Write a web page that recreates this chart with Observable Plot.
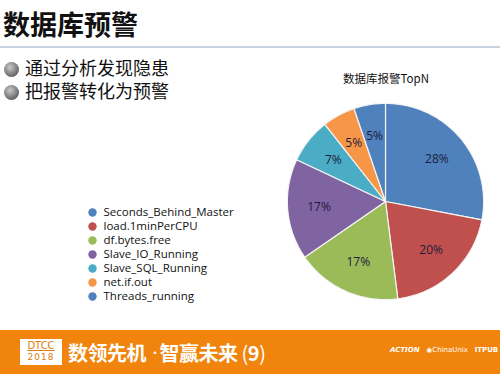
<!DOCTYPE html>
<html><head><meta charset="utf-8">
<script src="https://cdn.jsdelivr.net/npm/d3@7"></script>
<script src="https://cdn.jsdelivr.net/npm/@observablehq/plot@0.6"></script>
<style>
html,body{margin:0;padding:0;background:#fff;}
#slide{position:relative;width:500px;height:374px;overflow:hidden;background:#fff;font-family:"Noto Sans CJK SC","Noto Sans",sans-serif;}
.abs{position:absolute;}
#title{left:3px;top:5px;font-size:27px;font-weight:bold;color:#111;line-height:38px;letter-spacing:0px;}
#rule{left:0;top:46px;width:500px;height:2px;background:#c5d3e0;}
.bullet{left:4px;width:15px;height:15px;border-radius:50%;background:radial-gradient(circle at 40% 35%,#c9c9c9 0%,#8a8a8a 45%,#3c3c3c 100%);}
.btext{left:25px;font-size:18px;color:#111;line-height:21px;font-family:"Liberation Sans","Noto Sans CJK SC",sans-serif;}
#ptitle{left:300px;width:172px;text-align:center;top:70px;font-size:11.5px;color:#111;}
#pie{left:280px;top:96px;}
#legend{left:84px;top:202px;}
#footer{left:0;top:330px;width:500px;height:44px;background:#f0840c;}
#dtcc{left:20px;top:339px;width:42px;height:26px;background:#fff;text-align:center;font-family:"DejaVu Sans",sans-serif;color:#e07a10;}
#slogan{left:68px;top:339px;font-size:20px;font-weight:bold;color:#fff;line-height:28px;letter-spacing:-0.5px;}
#logos{left:390px;top:346px;font-size:7px;color:#fff;font-family:"DejaVu Sans",sans-serif;}
</style></head>
<body>
<div id="slide">
  <div id="title" class="abs">数据库预警</div>
  <div id="rule" class="abs"></div>
  <div class="abs bullet" style="top:62px"></div>
  <div class="abs bullet" style="top:85px"></div>
  <div class="abs btext" style="top:59px">通过分析发现隐患</div>
  <div class="abs btext" style="top:82px">把报警转化为预警</div>
  <div id="ptitle" class="abs">数据库报警TopN</div>
  <div id="pie" class="abs"></div>
  <div id="legend" class="abs"></div>
  <div id="footer" class="abs"></div>
  <div id="dtcc" class="abs"><div style="font-size:10px;line-height:12px;margin-top:1px;text-decoration:underline;">DTCC</div><div style="font-size:9px;line-height:11px;letter-spacing:1px;">2018</div></div>
  <div id="slogan" class="abs">数领先机 <span style="font-size:10px;vertical-align:top;">•</span>智赢未来 <span style="font-weight:normal;">(<span style="font-weight:bold;">9</span>)</span></div>
  <div id="logos" class="abs"><i><b>ACTION</b></i>&nbsp;&nbsp;&nbsp;◉ChinaUnix&nbsp;&nbsp;&nbsp;<b>ITPUB</b></div>
</div>
<script>
const categories = ["Seconds_Behind_Master","load.1minPerCPU","df.bytes.free","Slave_IO_Running","Slave_SQL_Running","net.if.out","Threads_running"];
const values = [28, 20, 17.4, 16.6, 7.4, 5.4, 5.2];
const colors = ["#4f81bd","#c0504d","#9bbb59","#8064a2","#4bacc6","#f79646","#4f81bd"];

const data = categories.map((c,i)=>({category:c, value:values[i], key:i}));
const total = d3.sum(values);
const arcs = d3.pie().sort(null).value(d=>d.value)(data);

// polygon points for each slice in unit-circle coordinates
const pts = [];
arcs.forEach(a=>{
  const n = Math.max(8, Math.ceil((a.endAngle-a.startAngle)/0.02));
  pts.push({key:a.data.key, x:0, y:0});
  for(let k=0;k<=n;k++){
    const t = a.startAngle + (a.endAngle-a.startAngle)*k/n;
    pts.push({key:a.data.key, x:Math.sin(t), y:Math.cos(t)});
  }
  pts.push({key:a.data.key, x:0, y:0});
});
const labels = arcs.map(a=>{
  const m=(a.startAngle+a.endAngle)/2;
  return {key:a.data.key, x:0.68*Math.sin(m), y:0.68*Math.cos(m), text:Math.round(a.data.value/total*100)+"%"};
});

const color = {type:"ordinal", domain:d3.range(categories.length), range:colors};

const pie = Plot.plot({
  width:210, height:210, margin:0,
  x:{domain:[-1.07,1.07], axis:null},
  y:{domain:[-1.07,1.07], axis:null},
  color,
  marks:[
    Plot.line(pts,{x:"x",y:"y",z:"key",fill:"key",stroke:"#f4f4f4",strokeWidth:1.2,curve:"linear"}),
    Plot.text(labels,{x:"x",y:"y",text:"text",fill:"#1c1c3c",fontSize:12,fontFamily:"Open Sans"})
  ]
});
document.getElementById("pie").appendChild(pie);

const legend = Plot.plot({
  width:170, height:104, marginTop:8, marginBottom:8, marginLeft:0, marginRight:0,
  x:{domain:[0,1], range:[8,170], axis:null},
  y:{type:"point", domain:categories, padding:0, axis:null},
  color,
  marks:[
    Plot.dot(data,{x:0,y:"category",r:4.2,fill:"key"}),
    Plot.text(data,{x:0,y:"category",text:"category",dx:11,textAnchor:"start",fontSize:11.5,fill:"#111",fontFamily:"Open Sans"})
  ]
});
document.getElementById("legend").appendChild(legend);
</script>
</body></html>
